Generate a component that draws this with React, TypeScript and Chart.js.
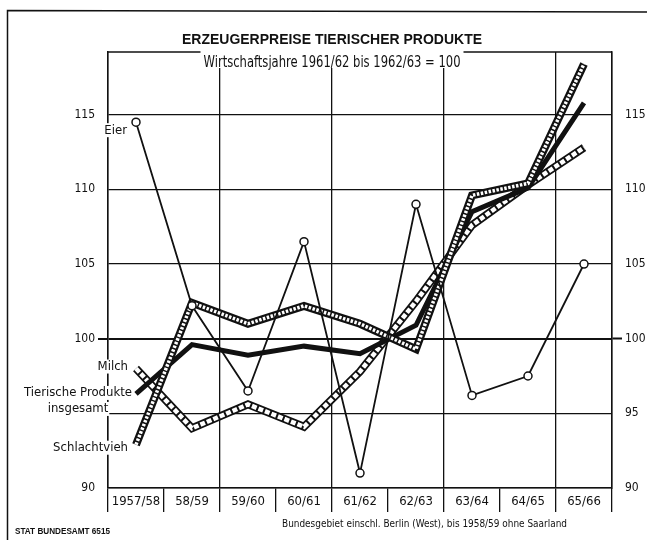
import React, { useEffect, useRef } from 'react';
import { Chart, registerables } from 'chart.js';

Chart.register(...registerables);

// ---------- data ----------
const categories = ['1957/58', '58/59', '59/60', '60/61', '61/62', '62/63', '63/64', '64/65', '65/66'];
const eierValues = [114.5, 102.2, 96.5, 106.5, 91.0, 109.0, 96.2, 97.5, 105.0];
const gesamtValues = [96.3, 99.6, 98.9, 99.5, 99.0, 100.9, 108.5, 110.1, 115.8];
const schlachtviehValues = [92.9, 102.4, 101.0, 102.2, 101.0, 99.3, 109.6, 110.4, 118.4];
const milchValues = [98.0, 94.0, 95.6, 94.1, 97.8, 102.5, 107.6, 110.3, 112.8];
const leftTickValues = [90, 100, 105, 110, 115];
const rightTickValues = [90, 95, 100, 105, 110, 115];
const yMin = 90;
const yMax = 119.2;

const titleText = 'ERZEUGERPREISE TIERISCHER PRODUKTE';
const subtitleText = 'Wirtschaftsjahre 1961/62 bis 1962/63 = 100';
const sourceText = 'STAT BUNDESAMT 6515';
const noteText = 'Bundesgebiet einschl. Berlin (West), bis 1958/59 ohne Saarland';
const labelEier = 'Eier';
const labelMilch = 'Milch';
const labelGesamt1 = 'Tierische Produkte';
const labelGesamt2 = 'insgesamt';
const labelSchlacht = 'Schlachtvieh';

// ---------- styles ----------
const INK = '#111';
const NARROW = "'Liberation Sans Narrow','DejaVu Sans Condensed','Liberation Sans',Arial,sans-serif";
const SANS = "'Liberation Sans','DejaVu Sans',Arial,sans-serif";

function fitText(ctx: CanvasRenderingContext2D, text: string, x: number, y: number, width: number, align: 'left' | 'center' | 'right') {
  const w = ctx.measureText(text).width;
  const s = width / w;
  ctx.save();
  ctx.translate(x, y);
  ctx.scale(s, 1);
  ctx.textAlign = align;
  ctx.textBaseline = 'alphabetic';
  ctx.fillText(text, 0, 0);
  ctx.restore();
}

function labelWithBg(ctx: CanvasRenderingContext2D, text: string, x: number, yMid: number, align: 'left' | 'center' | 'right') {
  const w = ctx.measureText(text).width;
  let left = x;
  if (align === 'right') left = x - w;
  if (align === 'center') left = x - w / 2;
  ctx.save();
  ctx.fillStyle = '#fff';
  ctx.fillRect(left - 1, yMid - 7, w + 2, 14);
  ctx.restore();
  ctx.textAlign = align;
  ctx.textBaseline = 'middle';
  ctx.fillText(text, x, yMid);
}

const decorPlugin = {
  id: 'decor',
  beforeDraw(chart: any) {
    const c = chart.ctx;
    c.save();
    c.fillStyle = '#fff';
    c.fillRect(0, 0, chart.width, chart.height);
    c.restore();
  },
  afterDraw(chart: any) {
    const ctx: CanvasRenderingContext2D = chart.ctx;
    const a = chart.chartArea;
    const xs = chart.scales.x;
    const ys = chart.scales.y;
    ctx.save();
    ctx.strokeStyle = INK;
    ctx.fillStyle = INK;

    // outer frame (left and top)
    ctx.lineWidth = 1.5;
    ctx.beginPath();
    ctx.moveTo(7.5, 540);
    ctx.lineTo(7.5, 10.5);
    ctx.lineTo(647, 12);
    ctx.stroke();

    // top border of plot
    ctx.lineWidth = 1.3;
    ctx.beginPath();
    ctx.moveTo(a.left, a.top);
    ctx.lineTo(a.right, a.top);
    ctx.stroke();

    // title
    ctx.font = `bold 14px ${SANS}`;
    fitText(ctx, titleText, 332, 44, 300, 'center');

    // subtitle with white box
    const sw = 257;
    ctx.fillStyle = '#fff';
    ctx.fillRect(332 - sw / 2 - 3, a.top - 2, sw + 6, 18);
    ctx.fillStyle = INK;
    ctx.font = `15px ${NARROW}`;
    fitText(ctx, subtitleText, 332, 67, sw, 'center');

    // series labels
    const x0 = xs.getPixelForValue(0);
    ctx.font = `13px ${NARROW}`;
    labelWithBg(ctx, labelEier, x0 - 9, ys.getPixelForValue(eierValues[0]) + 8, 'right');
    labelWithBg(ctx, labelMilch, x0 - 8, ys.getPixelForValue(milchValues[0]) - 2, 'right');
    const gy = ys.getPixelForValue(gesamtValues[0]);
    const gw = ctx.measureText(labelGesamt1).width;
    labelWithBg(ctx, labelGesamt1, x0 - 4, gy - 1, 'right');
    labelWithBg(ctx, labelGesamt2, x0 - 4 - gw / 2, gy + 15, 'center');
    labelWithBg(ctx, labelSchlacht, x0 - 8, ys.getPixelForValue(schlachtviehValues[0]) + 3, 'right');

    // footer
    ctx.font = `bold 9px ${SANS}`;
    fitText(ctx, sourceText, 15, 534, 95, 'left');
    ctx.font = `11px ${NARROW}`;
    fitText(ctx, noteText, 282, 527, 285, 'left');

    ctx.restore();
  },
};

export default function App() {
  const ref = useRef<HTMLCanvasElement>(null);

  useEffect(() => {
    const canvas = ref.current;
    if (!canvas) return;
    const tickFont = { family: NARROW, size: 12 };
    const transparent = 'rgba(0,0,0,0)';
    const chart = new Chart(canvas, {
      type: 'line',
      data: {
        labels: categories,
        datasets: [
          {
            label: 'Eier',
            data: eierValues,
            borderColor: INK,
            borderWidth: 1.8,
            pointRadius: 4,
            pointBorderWidth: 1.5,
            pointBackgroundColor: '#fff',
            pointBorderColor: INK,
            tension: 0,
            order: 0,
          },
          {
            label: 'Schlachtvieh (Innen)',
            data: schlachtviehValues,
            borderColor: '#fff',
            borderWidth: 3.5,
            borderDash: [2.5, 1.5],
            pointRadius: 0,
            tension: 0,
            order: 1,
          },
          {
            label: 'Schlachtvieh',
            data: schlachtviehValues,
            borderColor: INK,
            borderWidth: 8,
            borderJoinStyle: 'miter',
            pointRadius: 0,
            tension: 0,
            order: 2,
          },
          {
            label: 'Tierische Produkte insgesamt',
            data: gesamtValues,
            borderColor: INK,
            borderWidth: 5,
            borderJoinStyle: 'miter',
            pointRadius: 0,
            tension: 0,
            order: 3,
          },
          {
            label: 'Milch (Innen)',
            data: milchValues,
            borderColor: '#fff',
            borderWidth: 4.5,
            borderDash: [5, 2],
            pointRadius: 0,
            tension: 0,
            order: 4,
          },
          {
            label: 'Milch',
            data: milchValues,
            borderColor: INK,
            borderWidth: 8,
            borderJoinStyle: 'miter',
            pointRadius: 0,
            tension: 0,
            order: 5,
          },
        ],
      },
      options: {
        responsive: false,
        animation: false,
        events: [],
        layout: { padding: { top: 52, bottom: 28, left: 0, right: 0 } },
        plugins: {
          legend: { display: false },
          tooltip: { enabled: false },
          title: { display: false },
        },
        scales: {
          x: {
            type: 'category',
            offset: true,
            grid: {
              offset: true,
              color: (c: any) => (c.type !== 'tick' || c.index % 2 === 0 ? INK : transparent),
              lineWidth: 1.3,
              drawTicks: true,
              tickLength: 24,
              tickColor: INK,
              tickWidth: 1.3,
            },
            border: { display: true, color: INK, width: 1.5 },
            ticks: {
              font: { family: NARROW, size: 13 },
              color: INK,
              padding: -18,
              maxRotation: 0,
              autoSkip: false,
            },
            afterFit: (s: any) => {
              s.height = 24;
            },
          },
          y: {
            type: 'linear',
            position: 'left',
            min: yMin,
            max: yMax,
            grid: {
              color: INK,
              lineWidth: (c: any) => (c.tick && c.tick.value === 100 ? 2 : 1.3),
              drawTicks: true,
              tickLength: 10,
              tickColor: (c: any) => (c.tick && c.tick.value === 100 ? INK : transparent),
              tickWidth: 2,
            },
            border: { display: true, color: INK, width: 1.5 },
            ticks: {
              stepSize: 5,
              includeBounds: false,
              font: tickFont,
              color: INK,
              padding: 3,
              callback: (v: any) => (leftTickValues.includes(Number(v)) ? String(v) : ''),
            },
            afterFit: (s: any) => {
              s.width = 108;
            },
          },
          y2: {
            type: 'linear',
            position: 'right',
            min: yMin,
            max: yMax,
            grid: {
              drawOnChartArea: false,
              drawTicks: true,
              tickLength: 10,
              tickColor: (c: any) => (c.tick && c.tick.value === 100 ? INK : transparent),
              tickWidth: 2,
            },
            border: { display: true, color: INK, width: 1.5 },
            ticks: {
              stepSize: 5,
              includeBounds: false,
              font: tickFont,
              color: INK,
              padding: 3,
              callback: (v: any) => (rightTickValues.includes(Number(v)) ? String(v) : ''),
            },
            afterFit: (s: any) => {
              s.width = 35;
            },
          },
        },
      },
      plugins: [decorPlugin],
    } as any);
    return () => chart.destroy();
  }, []);

  return (
    <div style={{ position: 'fixed', left: 0, top: 0, width: 647, height: 540, background: '#fff' }}>
      <canvas ref={ref} width={647} height={540} style={{ display: 'block' }} />
    </div>
  );
}
